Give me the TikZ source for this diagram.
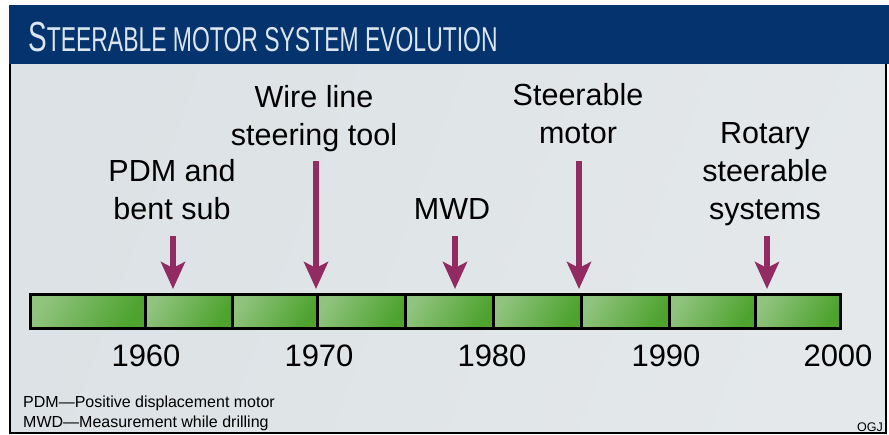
\documentclass[tikz,border=0pt]{standalone}
\usepackage{fontspec}
\setmainfont{Liberation Sans}
\usetikzlibrary{arrows.meta}
\definecolor{ogjblue}{HTML}{04336E}
\definecolor{titletext}{HTML}{DCE6EF}
\definecolor{panelleft}{HTML}{DCE2E5}
\definecolor{panelmid}{HTML}{EDF0F1}
\definecolor{panelright}{HTML}{E4E8EA}
\definecolor{segleft}{HTML}{90C37E}
\definecolor{segmid}{HTML}{A8D19A}
\definecolor{segright}{HTML}{4DA32E}
\definecolor{evocolor}{HTML}{922B62}
\tikzset{
  seg/.style={draw=black, line width=3pt, left color=segleft, middle color=segmid,
    right color=segright, shading angle=60},
  evo/.style={evocolor, line width=5.5pt,
    -{Stealth[length=27pt, width=24pt, inset=6pt]}},
  lbl/.style={inner sep=0pt, anchor=base, align=center,
    font=\fontsize{30.5}{38}\selectfont},
  yr/.style={inner sep=0pt, anchor=base, font=\fontsize{31}{36}\selectfont},
  note/.style={inner sep=0pt, anchor=base west, font=\fontsize{16}{20}\selectfont}
}
\begin{document}
\begin{tikzpicture}[x=1pt, y=-1pt]
  \useasboundingbox (0,0) rectangle (889,434);
  \shade[left color=panelleft, middle color=panelmid, right color=panelright, shading angle=70]
    (10,64) rectangle (886,433);
  \draw[line width=1.5pt] (10,64) |- (886,433) -- (886,64);
  \fill[ogjblue] (9,5) rectangle (889,64);
  \node[inner sep=0pt, anchor=base west, xscale=0.665, text=titletext] (title) at (28,51)
    {\fontsize{42}{46}\selectfont S\fontsize{34.5}{40}\selectfont TEERABLE MOTOR SYSTEM EVOLUTION};

  \draw[seg] (30,294) rectangle (145,328);
  \draw[seg] (145,294) rectangle (232,328);
  \draw[seg] (232,294) rectangle (317,328);
  \draw[seg] (317,294) rectangle (405,328);
  \draw[seg] (405,294) rectangle (493,328);
  \draw[seg] (493,294) rectangle (581,328);
  \draw[seg] (581,294) rectangle (669,328);
  \draw[seg] (669,294) rectangle (755,328);
  \draw[seg] (755,294) rectangle (840,328);

  \node[yr] (1960) at (146,366) {1960};
  \node[yr] (1970) at (319,366) {1970};
  \node[yr] (1980) at (492,366) {1980};
  \node[yr] (1990) at (666,366) {1990};
  \node[yr] (2000) at (838,366) {2000};

  \node[lbl] (pdm) at (172,219) {PDM and\\bent sub};
  \node[lbl] (wire) at (314,145) {Wire line\\steering tool};
  \node[lbl] (mwd) at (452,219) {MWD};
  \node[lbl] (steer) at (578,143) {Steerable\\motor};
  \node[lbl] (rotary) at (765,219) {Rotary\\steerable\\systems};

  \coordinate (pdm top) at (173,236);
  \coordinate (pdm tip) at (173,289);
  \coordinate (wire top) at (316,161);
  \coordinate (wire tip) at (316,289);
  \coordinate (mwd top) at (455,236);
  \coordinate (mwd tip) at (455,289);
  \coordinate (steer top) at (579,161);
  \coordinate (steer tip) at (579,289);
  \coordinate (rotary top) at (767,236);
  \coordinate (rotary tip) at (767,289);
  \draw[evo] (pdm top) -- (pdm tip);
  \draw[evo] (wire top) -- (wire tip);
  \draw[evo] (mwd top) -- (mwd tip);
  \draw[evo] (steer top) -- (steer tip);
  \draw[evo] (rotary top) -- (rotary tip);

  \node[note] (pdmnote) at (23,407) {PDM---Positive displacement motor};
  \node[note] (mwdnote) at (23,427) {MWD---Measurement while drilling};
  \node[inner sep=0pt, anchor=base east, font=\fontsize{12.5}{14}\selectfont] (ogj) at (883,431) {OGJ};
\end{tikzpicture}
\end{document}
